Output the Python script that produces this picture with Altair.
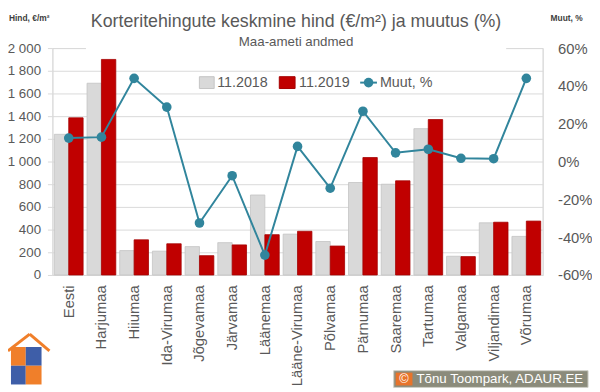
import altair as alt
import pandas as pd

regions = ["Eesti", "Harjumaa", "Hiiumaa", "Ida-Virumaa", "Jõgevamaa", "Järvamaa",
           "Läänemaa", "Lääne-Virumaa", "Põlvamaa", "Pärnumaa", "Saaremaa",
           "Tartumaa", "Valgamaa", "Viljandimaa", "Võrumaa"]
price_2018 = [1240, 1690, 215, 210, 250, 285, 705, 360, 295, 815, 800, 1290, 165, 460, 340]
price_2019 = [1385, 1900, 310, 275, 170, 265, 355, 385, 255, 1035, 830, 1370, 162, 465, 475]
change_pct = [12.4, 12.9, 44.0, 28.8, -32.5, -7.5, -49.5, 8.0, -14.1, 26.6, 4.6, 6.5, 1.7, 1.5, 44.0]
series = ["11.2018", "11.2019"]

FONT = "Liberation Sans"
GREY_TXT = "#595959"
GRID = "#d9d9d9"
C18, C19, CLINE = "#d9d9d9", "#c00000", "#31859c"

bars_df = pd.DataFrame(
    [{"region": r, "series": series[0], "price": v} for r, v in zip(regions, price_2018)]
    + [{"region": r, "series": series[1], "price": v} for r, v in zip(regions, price_2019)]
)
line_df = pd.DataFrame({"region": regions, "pct": change_pct})

W, H = 497, 230

xenc = alt.X("region:N", sort=regions,
             scale=alt.Scale(paddingInner=0.12, paddingOuter=0.06),
             axis=alt.Axis(title=None, labelAngle=-90, labelFontSize=15, labelColor=GREY_TXT,
                           labelFont=FONT, ticks=False, labelPadding=10,
                           domainColor=GRID, labelBaseline="middle", labelAlign="right"))

bars = alt.Chart(bars_df).mark_bar(strokeWidth=0.8).encode(
    x=xenc,
    xOffset=alt.XOffset("series:N", sort=series, scale=alt.Scale(paddingInner=0, paddingOuter=0)),
    y=alt.Y("price:Q", scale=alt.Scale(domain=[0, 2000], nice=False),
            axis=alt.Axis(title=None, values=list(range(0, 2001, 200)),
                          labelExpr="replace(format(datum.value, ','), ',', ' ')",
                          grid=True, gridColor=GRID, domainColor=GRID, tickColor=GRID,
                          tickSize=5, labelPadding=7, labelFontSize=13.5,
                          labelColor=GREY_TXT, labelFont=FONT)),
    color=alt.Color("series:N", sort=series,
                    scale=alt.Scale(domain=series, range=[C18, C19]), legend=None),
    stroke=alt.Stroke("series:N", sort=series,
                      scale=alt.Scale(domain=series, range=["#c4c4c4", "#a50000"]), legend=None),
)

line = alt.Chart(line_df).mark_line(color=CLINE, strokeWidth=2,
                                    point=alt.OverlayMarkDef(color=CLINE, size=95, filled=True, opacity=1)).encode(
    x=alt.X("region:N", sort=regions),
    y=alt.Y("pct:Q", scale=alt.Scale(domain=[-60, 60], nice=False),
            axis=alt.Axis(title=None, orient="right", values=list(range(-60, 61, 20)),
                          labelExpr="datum.value + '%'", grid=False, ticks=False,
                          domainColor=GRID, labelPadding=15, labelFontSize=15,
                          labelColor=GREY_TXT, labelFont=FONT)),
)

one = alt.Data(values=[{}])

def txt(text, x, y, size, color=GREY_TXT, align="left", weight="normal", baseline="alphabetic"):
    return alt.Chart(one).mark_text(text=text, fontSize=size, font=FONT, color=color,
                                    align=align, fontWeight=weight, baseline=baseline).encode(
        x=alt.value(x), y=alt.value(y))

def rect(x, x2, y, y2, color, stroke=None):
    kw = dict(color=color)
    if stroke:
        kw.update(stroke=stroke, strokeWidth=1)
    return alt.Chart(one).mark_rect(**kw).encode(
        x=alt.value(x), x2=alt.value(x2), y=alt.value(y), y2=alt.value(y2))

def rule(x, x2, y, y2, color, width):
    return alt.Chart(one).mark_rule(color=color, strokeWidth=width).encode(
        x=alt.value(x), x2=alt.value(x2), y=alt.value(y), y2=alt.value(y2))

decor = [
    rect(34, 460, -6, 3, "white"),
    txt("Korteritehingute keskmine hind (€/m²) ja muutus (%)", 247, -21, 18, align="center"),
    txt("Maa-ameti andmed", 247, -2, 13.5, align="center"),
    txt("Hind, €/m²", -44, -27, 8.5, color="#404040", weight="bold"),
    txt("Muut, %", 505, -27, 8.5, color="#404040", weight="bold"),
    # legend
    rect(149, 164, 29, 41, C18, "#c4c4c4"),
    txt("11.2018", 167, 35, 14.5, baseline="middle"),
    rect(230, 246, 29, 41, C19, "#a50000"),
    txt("11.2019", 250, 35, 14.5, baseline="middle"),
    rule(312, 329, 35, 35, CLINE, 2),
    alt.Chart(one).mark_point(shape="circle", filled=True, color=CLINE, size=95, opacity=1).encode(
        x=alt.value(320.5), y=alt.value(35)),
    txt("Muut, %", 332, 35, 14.5, baseline="middle"),
    # copyright box
    rect(346, 543, 327, 344, "#8b8b7b", "#d0d0c8"),
    rect(348, 365, 329, 342, "#e8742b"),
    txt("©", 356.5, 336, 13, color="white", align="center", baseline="middle"),
    txt("Tõnu Toompark, ADAUR.EE", 369, 336, 13.5, color="white", baseline="middle"),
    # logo
    rule(-45, -23, 307, 290, "#f07f2a", 3),
    rule(-23, -3, 290, 307, "#f07f2a", 3),
    rect(-42, -27, 303, 322, "#f07f2a"),
    rect(-27, -11, 303, 322, "#3e5ea8"),
    rect(-42, -27, 322, 341, "#3e5ea8"),
    rect(-27, -11, 322, 341, "#f07f2a"),
]

chart = alt.layer(bars, line, *decor).resolve_scale(y="independent").properties(
    width=W, height=H,
    autosize=alt.AutoSizeParams(type="none"),
    padding={"left": 45, "top": 38, "right": 50, "bottom": 116},
).configure_view(stroke=None).configure(background="white")

chart.save("out.html", embed_options={"renderer": "svg", "actions": False})
